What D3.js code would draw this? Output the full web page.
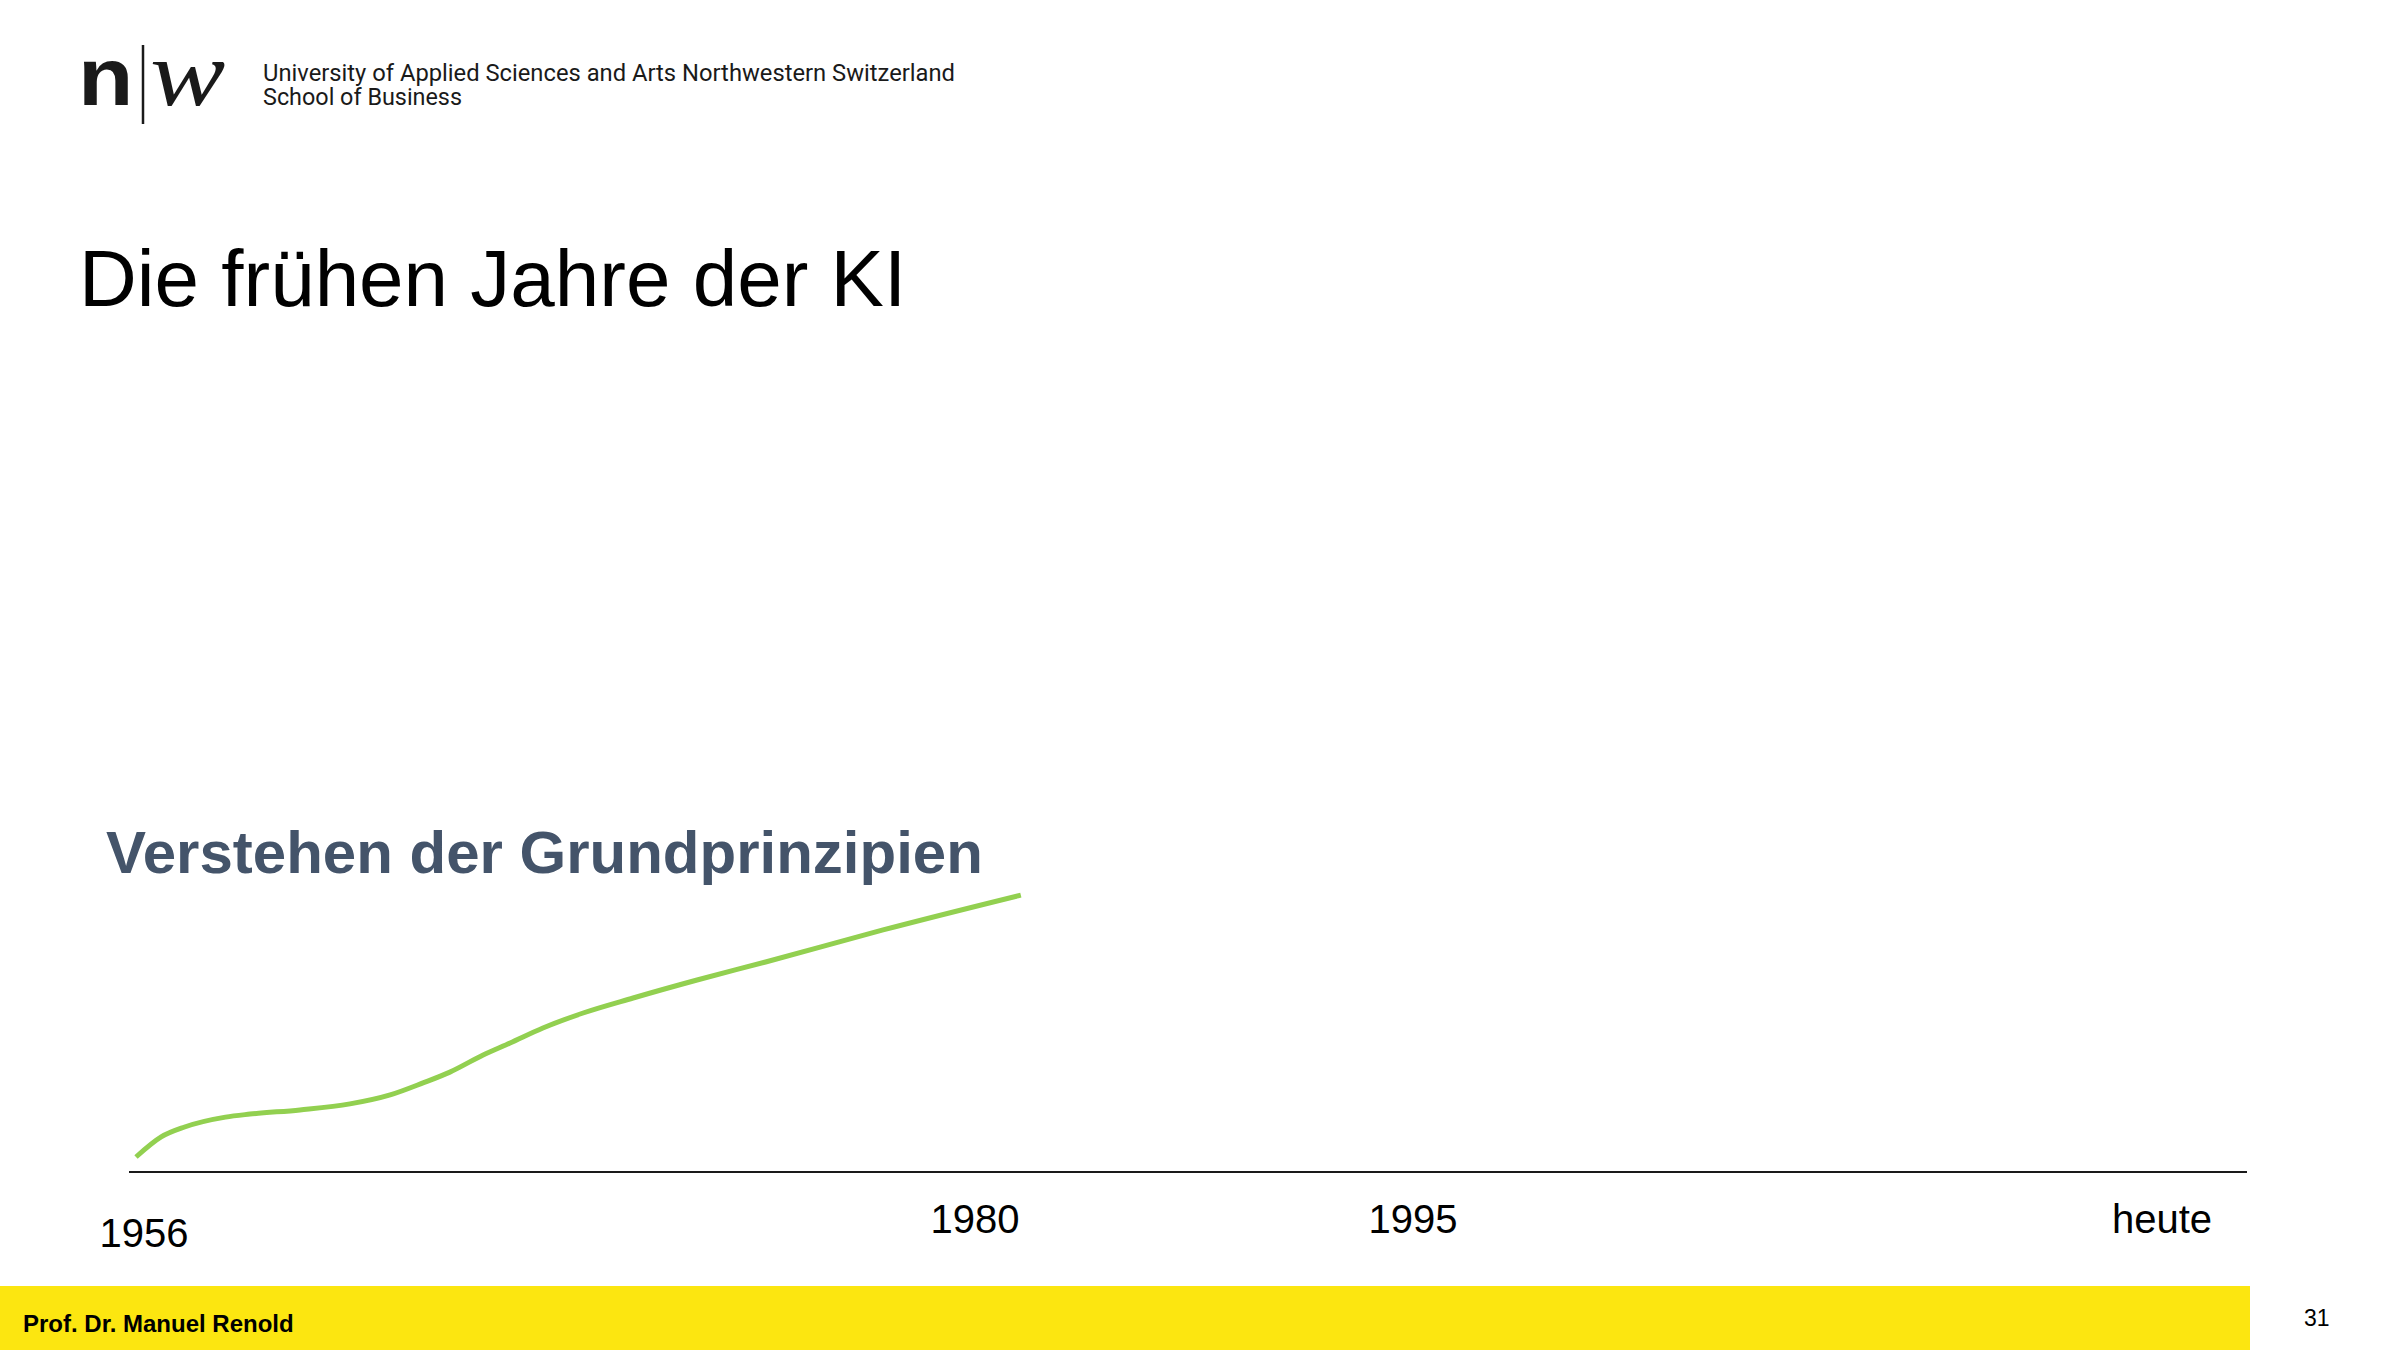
<!DOCTYPE html>
<html>
<head>
<meta charset="utf-8">
<script src="https://cdn.jsdelivr.net/npm/d3@7"></script>
<style>
  html, body { margin: 0; padding: 0; background: #ffffff; }
  text { font-family: "Liberation Sans", Arial, sans-serif; }
</style>
</head>
<body>
<div id="chart"></div>
<script>
// Chart data
var tickYears = [1956, 1980, 1995, 2024];
var tickLabels = ["1956", "1980", "1995", "heute"];

// "Verstehen der Grundprinzipien" curve (year, level 0-100)
var curveYears = [1956.0, 1956.72, 1957.39, 1958.56, 1959.26, 1960.69, 1962.12, 1963.27,
                  1964.21, 1964.98, 1965.93, 1966.70, 1967.64, 1968.79, 1970.22, 1972.05,
                  1974.01, 1977.37, 1981.57];
var curveValues = [5.0, 11.7, 15.0, 18.3, 19.3, 20.7, 22.7, 25.7,
                   29.7, 33.3, 39.0, 43.0, 48.0, 53.0, 58.0, 64.0,
                   70.0, 80.7, 92.3];

var title = "Die frühen Jahre der KI";
var seriesLabel = "Verstehen der Grundprinzipien";
var headerLines = ["University of Applied Sciences and Arts Northwestern Switzerland", "School of Business"];
var footerText = "Prof. Dr. Manuel Renold";
var pageNumber = "31";

// Dimensions
var width = 2400;
var height = 1350;
var axisY = 1172;

var svg = d3.select("#chart")
    .append("svg")
    .attr("width", width)
    .attr("height", height);

// Scales: the timeline is not linear, so use a piecewise scale
var xScale = d3.scaleLinear()
    .domain(tickYears)
    .range([136, 975, 1413, 2162]);

var yScale = d3.scaleLinear()
    .domain([0, 100])
    .range([axisY, axisY - 300]);

// Logo
svg.append("text")
    .attr("transform", "translate(78,105) scale(1.12,1)")
    .style("font-size", "81px")
    .style("font-weight", "bold")
    .style("fill", "#1a1a1a")
    .text("n");

svg.append("line")
    .attr("x1", 143).attr("x2", 143)
    .attr("y1", 45).attr("y2", 124)
    .style("stroke", "#1a1a1a")
    .style("stroke-width", 2.5);

svg.append("text")
    .attr("transform", "translate(150,105) scale(1.2,1)")
    .style("font-family", "'Liberation Serif', 'DejaVu Serif', serif")
    .style("font-style", "italic")
    .style("font-size", "94px")
    .style("fill", "#1a1a1a")
    .text("w");

svg.selectAll(".header")
    .data(headerLines)
    .enter().append("text")
    .attr("class", "header")
    .attr("x", 263)
    .attr("y", (d, i) => 81 + i * 24)
    .attr("textLength", (d, i) => i === 0 ? 692 : 199)
    .attr("lengthAdjust", "spacingAndGlyphs")
    .style("font-family", "Roboto, sans-serif")
    .style("font-size", "24px")
    .style("fill", "#1a1a1a")
    .text(d => d);

// Title
svg.append("text")
    .attr("x", 79)
    .attr("y", 306)
    .style("font-size", "80px")
    .style("fill", "#000000")
    .text(title);

// Series label
svg.append("text")
    .attr("x", 106)
    .attr("y", 873)
    .style("font-size", "60px")
    .style("font-weight", "bold")
    .style("fill", "#44546a")
    .text(seriesLabel);

// Timeline axis
svg.append("line")
    .attr("x1", 129)
    .attr("x2", 2247)
    .attr("y1", axisY)
    .attr("y2", axisY)
    .style("stroke", "#1a1a1a")
    .style("stroke-width", 2);

svg.selectAll(".tick-label")
    .data(tickYears)
    .enter().append("text")
    .attr("class", "tick-label")
    .attr("x", (d, i) => xScale(d) + (i === 0 ? 8 : 0))
    .attr("y", (d, i) => i === 0 ? 1247 : 1233)
    .style("text-anchor", "middle")
    .style("font-size", "40px")
    .style("fill", "#000000")
    .text((d, i) => tickLabels[i]);

// Curve
var points = curveYears.map((d, i) => [d, curveValues[i]]);

var line = d3.line()
    .x(d => xScale(d[0]))
    .y(d => yScale(d[1]))
    .curve(d3.curveMonotoneX);

svg.append("path")
    .datum(points)
    .attr("d", line)
    .style("fill", "none")
    .style("stroke", "#92d050")
    .style("stroke-width", 5)
    .style("stroke-linecap", "butt");

// Footer
svg.append("rect")
    .attr("x", 0)
    .attr("y", 1286)
    .attr("width", 2250)
    .attr("height", height - 1286)
    .style("fill", "#fce610");

svg.append("text")
    .attr("x", 23)
    .attr("y", 1332)
    .style("font-size", "24px")
    .style("font-weight", "bold")
    .style("fill", "#000000")
    .text(footerText);

svg.append("text")
    .attr("x", 2304)
    .attr("y", 1326)
    .style("font-size", "23px")
    .style("fill", "#000000")
    .text(pageNumber);
</script>
</body>
</html>
